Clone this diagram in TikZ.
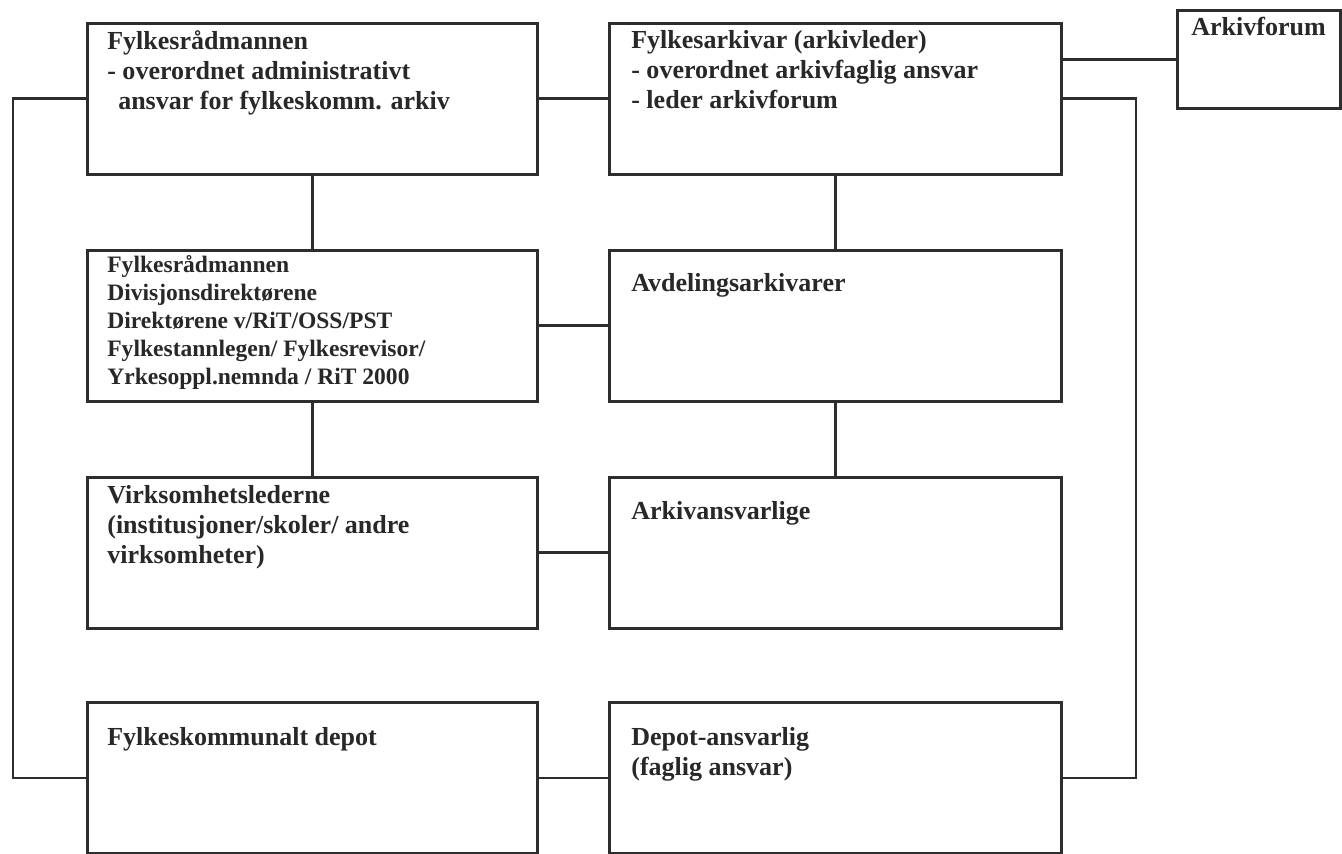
\documentclass[tikz,border=0pt]{standalone}
\usepackage{fontspec}
\setmainfont{Liberation Serif}
\usetikzlibrary{positioning}
\definecolor{orgink}{RGB}{40,40,40}
\definecolor{orgline}{RGB}{45,45,45}

\begin{document}
\begin{tikzpicture}[
  x=0.02cm, y=-0.02cm,
  box/.style={draw=orgline, line width=1.6pt, minimum width=9cm, minimum height=3.02cm, anchor=north west, inner sep=0pt},
  rbox/.style={box, minimum width=9.04cm},
  lbl/.style={text=orgink, font=\bfseries\fontsize{14.8}{17.1}\selectfont, align=left, anchor=north west, inner sep=0pt},
  small/.style={lbl, font=\bfseries\fontsize{13.4}{15.9}\selectfont},
  wire/.style={draw=orgline, line width=1.6pt}
]
\useasboundingbox (0,0) rectangle (1342,853);
\fill[white] (0,0) rectangle (1342,853);

\node[box] (radm) at (86,22) {};
\node[rbox] (farkiv) at (608,22) {};
\node[box, minimum width=3.26cm, minimum height=1.96cm] (forum) at (1176,9) {};

\node[box] (direkt) at (86,249) {};
\node[rbox] (avdarkiv) at (608,249) {};

\node[box] (virks) at (86,476) {};
\node[rbox] (arkansv) at (608,476) {};

\node[box] (depot) at (86,701) {};
\node[rbox] (depansv) at (608,701) {};

\node[lbl] (radmtxt) at ([shift={(21,8)}]radm.north west) {Fylkesrådmannen\\- overordnet administrativt\\\hspace*{0.42em}ansvar for fylkeskomm. arkiv};
\node[lbl] (farkivtxt) at ([shift={(23,8)}]farkiv.north west) {Fylkesarkivar (arkivleder)\\- overordnet arkivfaglig ansvar\\- leder arkivforum};
\node[lbl] (forumtxt) at ([shift={(15,8)}]forum.north west) {Arkivforum};

\node[small] (direkttxt) at ([shift={(21,6)}]direkt.north west) {Fylkesrådmannen\\Divisjonsdirektørene\\Direktørene v/RiT/OSS/PST\\Fylkestannlegen/ Fylkesrevisor/\\Yrkesoppl.nemnda / RiT 2000};
\node[lbl] (avdarkivtxt) at ([shift={(23,24)}]avdarkiv.north west) {Avdelingsarkivarer};

\node[lbl] (virkstxt) at ([shift={(21,9)}]virks.north west) {Virksomhetslederne\\(institusjoner/skoler/ andre\\virksomheter)};
\node[lbl] (arkansvtxt) at ([shift={(23,25)}]arkansv.north west) {Arkivansvarlige};

\node[lbl] (depottxt) at ([shift={(21,26)}]depot.north west) {Fylkeskommunalt depot};
\node[lbl] (depansvtxt) at ([shift={(23,26)}]depansv.north west) {Depot-ansvarlig\\(faglig ansvar)};

\coordinate (lbus) at (13,0);
\coordinate (rbus) at (1136,0);

\draw[wire] (radm.east) -- (farkiv.west);
\draw[wire] (direkt.east) -- (avdarkiv.west);
\draw[wire] (virks.east) -- (arkansv.west);
\draw[wire] (depot.east) -- (depansv.west);

\draw[wire] (radm.south) -- (direkt.north);
\draw[wire] (direkt.south) -- (virks.north);
\draw[wire] (farkiv.south) -- (avdarkiv.north);
\draw[wire] (avdarkiv.south) -- (arkansv.north);

\draw[wire] (farkiv.east |- forum.west) -- (forum.west);
\draw[wire] (radm.west) -- (radm.west -| lbus) |- (depot.west);
\draw[wire] (farkiv.east) -- (farkiv.east -| rbus) |- (depansv.east);
\end{tikzpicture}
\end{document}
